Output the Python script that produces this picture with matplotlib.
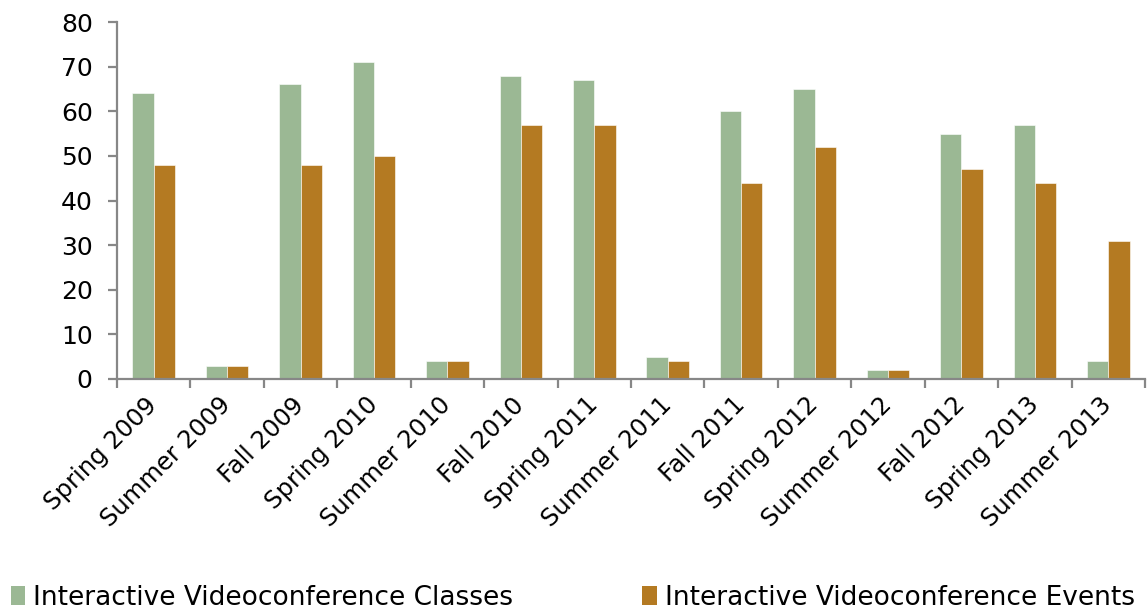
import matplotlib

matplotlib.use("Agg")

import matplotlib.pyplot as plt
import numpy as np
from matplotlib.patches import Patch

terms = [
    "Spring 2009", "Summer 2009", "Fall 2009", "Spring 2010", "Summer 2010",
    "Fall 2010", "Spring 2011", "Summer 2011", "Fall 2011", "Spring 2012",
    "Summer 2012", "Fall 2012", "Spring 2013", "Summer 2013",
]
classes = [64, 3, 66, 71, 4, 68, 67, 5, 60, 65, 2, 55, 57, 4]
events = [48, 3, 48, 50, 4, 57, 57, 4, 44, 52, 2, 47, 44, 31]

green = "#9bb894"
orange = "#b47a22"
axis_gray = "#878787"

plt.rcParams["font.family"] = ["DejaVu Sans"]

fig = plt.figure(figsize=(11.48, 6.14), dpi=100)
ax = fig.add_axes([117 / 1148, 1 - 379 / 614, 1028 / 1148, 357 / 614])

x = np.arange(len(terms))
width = 0.29
ax.bar(x - width / 2, classes, width, color=green, edgecolor="white", linewidth=0.4)
ax.bar(x + width / 2, events, width, color=orange, edgecolor="white", linewidth=0.4)

ax.set_xlim(-0.5, len(terms) - 0.5)
ax.set_ylim(0, 80)
ax.set_yticks(range(0, 81, 10))

# category boundaries carry the tick marks, labels sit at the centres
ax.set_xticks(np.arange(-0.5, len(terms), 1.0))
ax.set_xticklabels([])
ax.set_xticks(x, minor=True)
ax.set_xticklabels(terms, minor=True, rotation=45, ha="right", va="center",
                   rotation_mode="anchor", fontsize=17.5)
ax.tick_params(axis="x", which="minor", length=0, pad=16)
ax.tick_params(axis="x", which="major", length=6.5, width=1.6, color=axis_gray)
ax.tick_params(axis="y", length=6.5, width=1.6, color=axis_gray, labelsize=18, pad=11)

for side in ("top", "right"):
    ax.spines[side].set_visible(False)
for side in ("left", "bottom"):
    ax.spines[side].set_color(axis_gray)
    ax.spines[side].set_linewidth(1.6)

handles = [
    Patch(facecolor=green, label="Interactive Videoconference Classes"),
    Patch(facecolor=orange, label="Interactive Videoconference Events"),
]
fig.legend(handles=handles, ncol=2, loc="lower left", bbox_to_anchor=(0.0, -0.012),
           frameon=False, fontsize=19, handlelength=0.55, handleheight=0.75,
           handletextpad=0.3, columnspacing=4.9, borderaxespad=0.0)

fig.savefig("out.png", dpi=100, facecolor="white")
